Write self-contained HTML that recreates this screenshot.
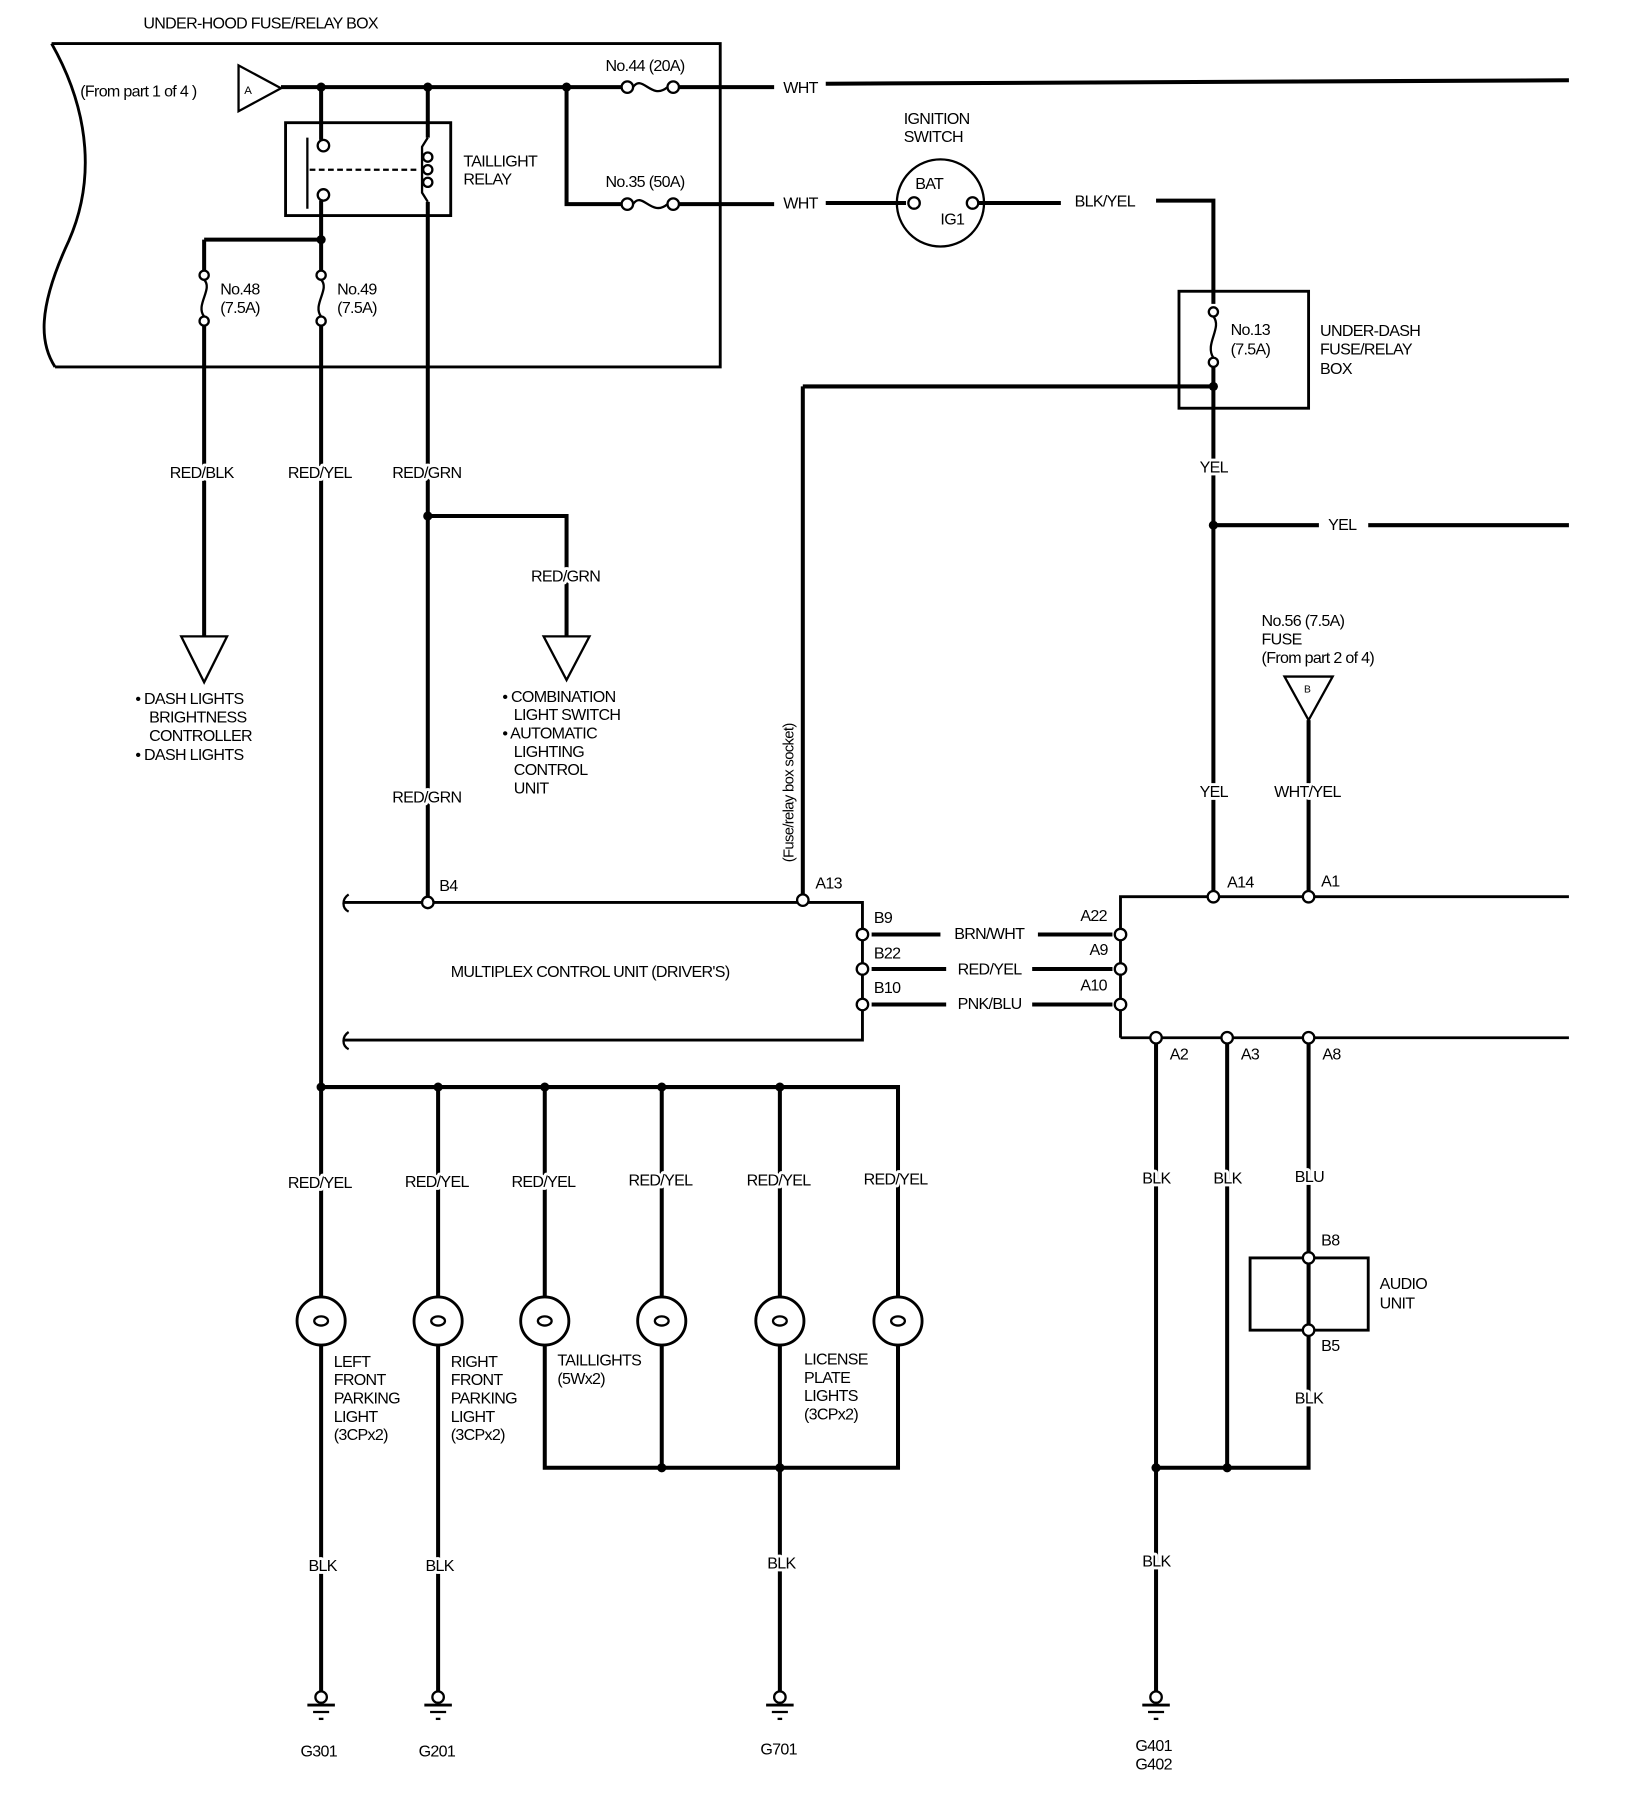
<!DOCTYPE html>
<html><head><meta charset="utf-8"><style>
html,body{margin:0;padding:0;background:#fff}
svg{display:block}
text{font-family:"Liberation Sans Narrow","Liberation Sans",sans-serif;font-size:14px;letter-spacing:-0.6px;fill:#000;stroke:#fff;stroke-width:5px;paint-order:stroke;stroke-linejoin:round}
</style></head><body>
<svg width="1632" height="1798" viewBox="0 0 1423 1568" preserveAspectRatio="none" xmlns="http://www.w3.org/2000/svg">
<defs>
<g id="lamp"><circle r="21" fill="#fff" stroke="#000" stroke-width="2.5"/><ellipse cx="0" cy="0" rx="6" ry="4" fill="none" stroke="#000" stroke-width="2"/></g>
<g id="gnd"><circle cx="0" cy="0" r="5" fill="#fff" stroke="#000" stroke-width="2"/><line x1="-12" y1="7" x2="12" y2="7" stroke="#000" stroke-width="2.5"/><line x1="-7" y1="13" x2="7" y2="13" stroke="#000" stroke-width="2"/><line x1="-2" y1="19" x2="2" y2="19" stroke="#000" stroke-width="2"/></g>
</defs>
<g fill="none" stroke="#000" stroke-width="3.5">
<path d="M45 38 L628 38 L628 320 L48 320" stroke-width="2.5"/>
<path d="M45 38 C80 100 82 160 60 210 C32 270 35 300 48 320" stroke-width="2.5"/>
<polygon points="208,57 208,97 245,77" stroke-width="2"/>
<path d="M245 76 L542 76 M592 76 L675 76 M720 73 L1368 70"/>
<path d="M494 76 L494 178 L542 178 M592 178 L675 178 M720 177 L790 177 M852 177 L925 177 M1008 175 L1058 175 L1058 265"/>
<g stroke-width="2"><circle cx="547" cy="76" r="5" fill="#fff"/><circle cx="587" cy="76" r="5" fill="#fff"/><path d="M552 76 C560 64 568 88 582 76"/>
<circle cx="547" cy="178" r="5" fill="#fff"/><circle cx="587" cy="178" r="5" fill="#fff"/><path d="M552 178 C560 166 568 190 582 178"/></g>
<circle cx="820" cy="177" r="38" stroke-width="2"/>
<circle cx="797" cy="177" r="5" stroke-width="2" fill="#fff"/><circle cx="848" cy="177" r="5" stroke-width="2" fill="#fff"/>
<rect x="249" y="107" width="144" height="81" stroke-width="2.5"/>
<path d="M280 76 L280 122 M280 175 L280 209"/>
<g stroke-width="2"><circle cx="282" cy="127" r="5" fill="#fff"/><circle cx="282" cy="170" r="5" fill="#fff"/>
<line x1="268" y1="120" x2="268" y2="182"/><line x1="270" y1="148" x2="365" y2="148" stroke-dasharray="5,3"/>
<circle cx="373" cy="137" r="4"/><circle cx="373" cy="148" r="4"/><circle cx="373" cy="159" r="4"/>
<path d="M373 120 L368 128 L368 168 L373 176"/></g>
<path d="M373 76 L373 120 M373 176 L373 787"/>
<path d="M178 209 L280 209 M178 209 L178 236 M178 284 L178 555 M280 209 L280 236 M280 284 L280 1478"/>
<g stroke-width="2"><circle cx="178" cy="240" r="4" fill="#fff"/><circle cx="178" cy="280" r="4" fill="#fff"/><path d="M178 244 C186 252 170 266 178 276"/>
<circle cx="280" cy="240" r="4" fill="#fff"/><circle cx="280" cy="280" r="4" fill="#fff"/><path d="M280 244 C288 252 272 266 280 276"/></g>
<polygon points="158,555 198,555 178,595" stroke-width="2"/>
<path d="M373 450 L494 450 L494 555"/>
<polygon points="474,555 514,555 494,593" stroke-width="2"/>
<rect x="1028" y="254" width="113" height="102" stroke-width="2.5"/>
<g stroke-width="2"><circle cx="1058" cy="272" r="4" fill="#fff"/><circle cx="1058" cy="316" r="4" fill="#fff"/><path d="M1058 276 C1066 286 1050 300 1058 312"/></g>
<path d="M1058 320 L1058 778 M700 337 L1058 337 M700 337 L700 781 M1058 458 L1150 458 M1193 458 L1368 458"/>
<polygon points="1120,590 1162,590 1141,628" stroke-width="2"/>
<path d="M1141 628 L1141 778"/>
<path d="M300 787 L752 787 L752 907 L300 907" stroke-width="2.5"/>
<path d="M304 780 C298 784 298 792 304 795 M304 900 C298 904 298 912 304 915" stroke-width="2"/>
<path d="M977 905 L977 782 L1368 782 M977 905 L1368 905" stroke-width="2.5"/>
<path d="M760 815 L820 815 M905 815 L970 815 M760 845 L825 845 M900 845 L970 845 M760 876 L825 876 M900 876 L970 876"/>
<g stroke-width="2" fill="#fff">
<circle cx="373" cy="787" r="5"/><circle cx="700" cy="785" r="5"/><circle cx="1058" cy="782" r="5"/><circle cx="1141" cy="782" r="5"/>
<circle cx="752" cy="815" r="5"/><circle cx="752" cy="845" r="5"/><circle cx="752" cy="876" r="5"/>
<circle cx="977" cy="815" r="5"/><circle cx="977" cy="845" r="5"/><circle cx="977" cy="876" r="5"/>
</g>
<path d="M1008 910 L1008 1478 M1070 910 L1070 1280 M1141 910 L1141 1092 M1141 1165 L1141 1280 L1008 1280"/>
<rect x="1090" y="1097" width="103" height="63" stroke-width="2.5"/>
<path d="M1141 1097 L1141 1160"/>
<g stroke-width="2" fill="#fff"><circle cx="1008" cy="905" r="5"/><circle cx="1070" cy="905" r="5"/><circle cx="1141" cy="905" r="5"/><circle cx="1141" cy="1097" r="5"/><circle cx="1141" cy="1160" r="5"/></g>
<path d="M280 948 L783 948 L783 1131 M382 948 L382 1478 M475 948 L475 1131 M577 948 L577 1131 M680 948 L680 1131"/>
<path d="M475 1173 L475 1280 L783 1280 L783 1173 M577 1173 L577 1280 M680 1173 L680 1478"/>
</g>
<g fill="#000">
<circle cx="280" cy="76" r="4"/><circle cx="373" cy="76" r="4"/><circle cx="494" cy="76" r="4"/><circle cx="280" cy="209" r="4"/><circle cx="373" cy="450" r="4"/>
<circle cx="1058" cy="337" r="4"/><circle cx="1058" cy="458" r="4"/>
<circle cx="280" cy="948" r="4"/><circle cx="382" cy="948" r="4"/><circle cx="475" cy="948" r="4"/><circle cx="577" cy="948" r="4"/><circle cx="680" cy="948" r="4"/>
<circle cx="577" cy="1280" r="4"/><circle cx="680" cy="1280" r="4"/><circle cx="1008" cy="1280" r="4"/><circle cx="1070" cy="1280" r="4"/>
</g>
<use href="#lamp" x="280" y="1152"/><use href="#lamp" x="382" y="1152"/><use href="#lamp" x="475" y="1152"/><use href="#lamp" x="577" y="1152"/><use href="#lamp" x="680" y="1152"/><use href="#lamp" x="783" y="1152"/>
<use href="#gnd" x="280" y="1480"/><use href="#gnd" x="382" y="1480"/><use href="#gnd" x="680" y="1480"/><use href="#gnd" x="1008" y="1480"/>
<text x="125" y="25">UNDER-HOOD FUSE/RELAY BOX</text>
<text x="70" y="84">(From part 1 of 4 )</text>
<text x="213" y="82" style="font-size:10px">A</text>
<text x="528" y="62">No.44 (20A)</text>
<text x="528" y="163">No.35 (50A)</text>
<text x="683" y="81">WHT</text>
<text x="683" y="182">WHT</text>
<text x="788" y="108">IGNITION</text><text x="788" y="124">SWITCH</text>
<text x="798" y="165">BAT</text><text x="820" y="196">IG1</text>
<text x="937" y="180">BLK/YEL</text>
<text x="404" y="145">TAILLIGHT</text><text x="404" y="161">RELAY</text>
<text x="192" y="257">No.48</text><text x="192" y="273">(7.5A)</text>
<text x="294" y="257">No.49</text><text x="294" y="273">(7.5A)</text>
<text x="1073" y="292">No.13</text><text x="1073" y="309">(7.5A)</text>
<text x="1151" y="293">UNDER-DASH</text><text x="1151" y="309">FUSE/RELAY</text><text x="1151" y="326">BOX</text>
<text x="148" y="417">RED/BLK</text><text x="251" y="417">RED/YEL</text><text x="342" y="417">RED/GRN</text>
<text x="1046" y="412">YEL</text><text x="1158" y="462">YEL</text>
<text x="463" y="507">RED/GRN</text>
<text x="118" y="614">• DASH LIGHTS</text><text x="130" y="630">BRIGHTNESS</text><text x="130" y="646">CONTROLLER</text><text x="118" y="663">• DASH LIGHTS</text>
<text x="438" y="612">• COMBINATION</text><text x="448" y="628">LIGHT SWITCH</text><text x="438" y="644">• AUTOMATIC</text><text x="448" y="660">LIGHTING</text><text x="448" y="676">CONTROL</text><text x="448" y="692">UNIT</text>
<text x="1100" y="546">No.56 (7.5A)</text><text x="1100" y="562">FUSE</text><text x="1100" y="578">(From part 2 of 4)</text>
<text x="1137" y="604" style="font-size:9px">B</text>
<text x="342" y="700">RED/GRN</text>
<text x="1046" y="695">YEL</text><text x="1111" y="695">WHT/YEL</text>
<text transform="translate(692,752) rotate(-90)" style="font-size:13px">(Fuse/relay box socket)</text>
<text x="383" y="777">B4</text><text x="711" y="775">A13</text><text x="1070" y="774">A14</text><text x="1152" y="773">A1</text>
<text x="762" y="805">B9</text><text x="762" y="836">B22</text><text x="762" y="866">B10</text>
<text x="942" y="803">A22</text><text x="950" y="833">A9</text><text x="942" y="864">A10</text>
<text x="832" y="819">BRN/WHT</text><text x="835" y="850">RED/YEL</text><text x="835" y="880">PNK/BLU</text>
<text x="393" y="852">MULTIPLEX CONTROL UNIT (DRIVER'S)</text>
<text x="1020" y="924">A2</text><text x="1082" y="924">A3</text><text x="1153" y="924">A8</text>
<text x="251" y="1036">RED/YEL</text><text x="353" y="1035">RED/YEL</text><text x="446" y="1035">RED/YEL</text><text x="548" y="1034">RED/YEL</text><text x="651" y="1034">RED/YEL</text><text x="753" y="1033">RED/YEL</text>
<text x="996" y="1032">BLK</text><text x="1058" y="1032">BLK</text><text x="1129" y="1031">BLU</text>
<text x="1152" y="1086">B8</text><text x="1152" y="1178">B5</text>
<text x="1203" y="1124">AUDIO</text><text x="1203" y="1141">UNIT</text>
<text x="1129" y="1224">BLK</text>
<text x="291" y="1192">LEFT</text><text x="291" y="1208">FRONT</text><text x="291" y="1224">PARKING</text><text x="291" y="1240">LIGHT</text><text x="291" y="1256">(3CPx2)</text>
<text x="393" y="1192">RIGHT</text><text x="393" y="1208">FRONT</text><text x="393" y="1224">PARKING</text><text x="393" y="1240">LIGHT</text><text x="393" y="1256">(3CPx2)</text>
<text x="486" y="1191">TAILLIGHTS</text><text x="486" y="1207">(5Wx2)</text>
<text x="701" y="1190">LICENSE</text><text x="701" y="1206">PLATE</text><text x="701" y="1222">LIGHTS</text><text x="701" y="1238">(3CPx2)</text>
<text x="269" y="1370">BLK</text><text x="371" y="1370">BLK</text><text x="669" y="1368">BLK</text><text x="996" y="1366">BLK</text>
<text x="262" y="1532">G301</text><text x="365" y="1532">G201</text><text x="663" y="1530">G701</text><text x="990" y="1527">G401</text><text x="990" y="1543">G402</text>
</svg>
</body></html>
